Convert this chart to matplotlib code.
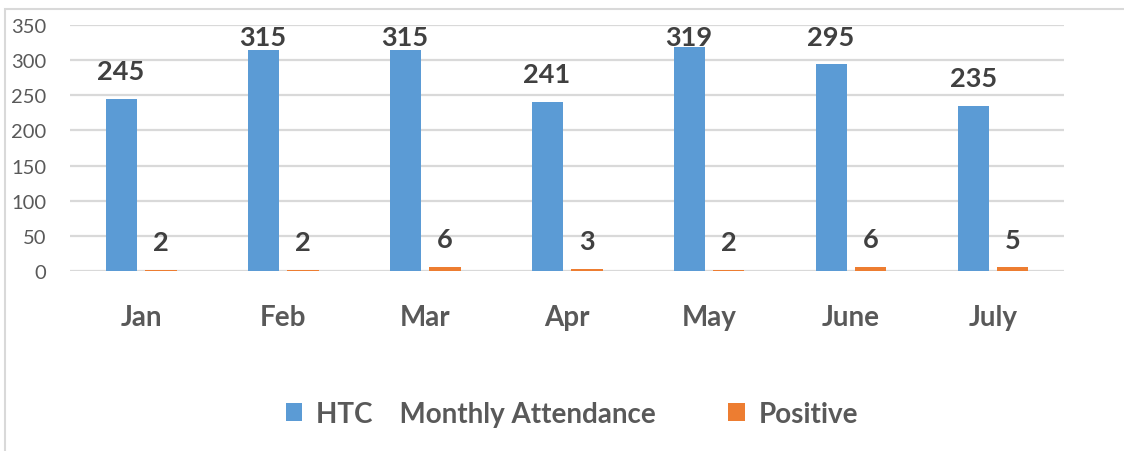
import matplotlib

matplotlib.use("Agg")
import matplotlib.pyplot as plt
import numpy as np
from matplotlib.patches import Rectangle

plt.rcParams["font.family"] = ["Lato", "DejaVu Sans"]

months = ["Jan", "Feb", "Mar", "Apr", "May", "June", "July"]
attendance = [245, 315, 315, 241, 319, 295, 235]
positive = [2, 2, 6, 3, 2, 6, 5]

BLUE = "#5B9BD5"
ORANGE = "#ED7D31"
GRID = "#D9D9D9"

fig = plt.figure(figsize=(11.24, 4.52), dpi=100)
ax = fig.add_axes([70 / 1124, 180 / 452, 994 / 1124, 246 / 452])

x = np.arange(len(months))
w = 0.22
ax.bar(x - 0.14, attendance, w, color=BLUE, label="HTC    Monthly Attendance", zorder=3)
ax.bar(x + 0.14, positive, w, color=ORANGE, label="Positive", zorder=3)

# data labels sit ~39 units above the bar, kept inside the plot area
for xs, vals in ((x - 0.14, attendance), (x + 0.14, positive)):
    for xi, v in zip(xs, vals):
        ax.text(xi, min(v + 39, 333), str(v), ha="center", va="center",
                fontsize=19.5, fontweight="bold", color="#404040")

ax.set_xlim(-0.5, len(months) - 0.5)
ax.set_ylim(0, 350)
ax.set_yticks(np.arange(0, 351, 50))
ax.yaxis.grid(True, color=GRID, lw=1.6, zorder=0)
ax.set_axisbelow(True)
for s in ax.spines.values():
    s.set_visible(False)
ax.tick_params(axis="both", length=0)
ax.tick_params(axis="y", labelsize=14.5, labelcolor="#595959", pad=17)
ax.set_xticks(x)
ax.set_xticklabels(months, fontsize=20, fontweight="bold", color="#595959")
ax.tick_params(axis="x", pad=24)

leg = fig.legend(loc="center", bbox_to_anchor=(0.5 + 10 / 1124, 1 - 415 / 452),
                 ncol=2, frameon=False, prop={"size": 20, "weight": "bold"},
                 handlelength=0.6, handleheight=0.6, handletextpad=0.5,
                 columnspacing=2.6)
for t in leg.get_texts():
    t.set_color("#595959")

fig.patches.append(Rectangle((5 / 1124, -0.1), 1.2, 1 - 10 / 452 + 0.1,
                             transform=fig.transFigure, fill=False,
                             edgecolor=GRID, lw=1.5))

fig.savefig("out.png", dpi=100)
